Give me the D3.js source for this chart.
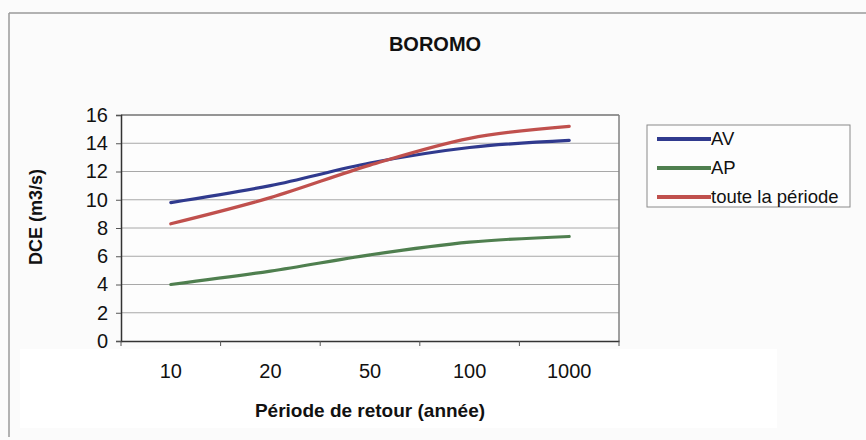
<!DOCTYPE html>
<html>
<head>
<meta charset="utf-8">
<script src="https://cdn.jsdelivr.net/npm/d3@7"></script>
<style>
  html, body { margin: 0; padding: 0; background: #fbfbfb; }
  svg { display: block; font-family: "Liberation Sans", Arial, sans-serif; }
</style>
</head>
<body>
<svg id="chart" width="866" height="440"></svg>
<script>
// Return periods (years) and design flood discharges per period
const periods = ["10", "20", "50", "100", "1000"];
const seriesNames = ["AV", "AP", "toute la période"];
const avValues = [9.8, 11.0, 12.6, 13.7, 14.2];
const apValues = [4.0, 4.95, 6.1, 7.0, 7.4];
const allValues = [8.3, 10.15, 12.45, 14.35, 15.2];
const yTicks = [0, 2, 4, 6, 8, 10, 12, 14, 16];
const seriesColors = ["#303a8e", "#4f7f4f", "#c0504d"];

const series = seriesNames.map((name, i) => ({
  name,
  color: seriesColors[i],
  values: [avValues, apValues, allValues][i]
}));

const svg = d3.select("#chart");
const W = 866, H = 440;
const FONT = "'Liberation Sans', Arial, sans-serif";

// outer frame of the chart
svg.append("rect").attr("x", 0).attr("y", 0).attr("width", W).attr("height", H).attr("fill", "#fbfbfb");
svg.append("line").attr("x1", 9).attr("x2", W).attr("y1", 13).attr("y2", 13)
  .attr("stroke", "#9a9a9a").attr("stroke-width", 1.5);
svg.append("line").attr("x1", 9).attr("x2", 9).attr("y1", 13).attr("y2", 437)
  .attr("stroke", "#9a9a9a").attr("stroke-width", 1.5);
// pale white band under the plot
svg.append("rect").attr("x", 20).attr("y", 349).attr("width", 757).attr("height", 79).attr("fill", "#ffffff");

const plot = { left: 121, right: 619, top: 115, bottom: 341 };

const x = d3.scaleBand().domain(periods).range([plot.left, plot.right]).padding(0);
const y = d3.scaleLinear().domain([0, 16]).range([plot.bottom, plot.top]);

// plot area background
svg.append("rect")
  .attr("x", plot.left).attr("y", plot.top)
  .attr("width", plot.right - plot.left).attr("height", plot.bottom - plot.top)
  .attr("fill", "#fdfdfd");

// horizontal gridlines
svg.append("g").selectAll("line").data(yTicks.filter(t => t > 0)).join("line")
  .attr("x1", plot.left).attr("x2", plot.right)
  .attr("y1", d => y(d)).attr("y2", d => y(d))
  .attr("stroke", "#a8a8a8").attr("stroke-width", 1);

// plot area border (top / right)
svg.append("line").attr("x1", plot.left).attr("x2", plot.right)
  .attr("y1", plot.top).attr("y2", plot.top).attr("stroke", "#808080").attr("stroke-width", 1.5);
svg.append("line").attr("x1", plot.right).attr("x2", plot.right)
  .attr("y1", plot.top).attr("y2", plot.bottom).attr("stroke", "#808080").attr("stroke-width", 1.5);

// y axis
const yAxis = svg.append("g").attr("transform", `translate(${plot.left},0)`)
  .call(d3.axisLeft(y).tickValues(yTicks).tickSize(5).tickPadding(8).tickFormat(d3.format("d")));
yAxis.select(".domain").attr("stroke", "#333").attr("stroke-width", 1.5);
yAxis.selectAll(".tick line").attr("stroke", "#555");
yAxis.selectAll("text").attr("font-size", 20).attr("fill", "#111").attr("font-family", FONT);

// x axis with tick marks on category boundaries
const xAxis = svg.append("g").attr("transform", `translate(0,${plot.bottom})`)
  .call(d3.axisBottom(x).tickSize(0).tickPadding(23));
xAxis.select(".domain").attr("stroke", "#333").attr("stroke-width", 1.5);
xAxis.selectAll("text").attr("font-size", 20).attr("fill", "#111").attr("font-family", FONT);
const bounds = periods.map(p => x(p)).concat([x(periods[periods.length - 1]) + x.bandwidth()]);
svg.append("g").selectAll("line").data(bounds).join("line")
  .attr("x1", d => d).attr("x2", d => d)
  .attr("y1", plot.bottom).attr("y2", plot.bottom + 5)
  .attr("stroke", "#555").attr("stroke-width", 1);

// smoothed series lines
const line = d3.line()
  .x((d, i) => x(periods[i]) + x.bandwidth() / 2)
  .y(d => y(d))
  .curve(d3.curveCatmullRom.alpha(0.5));

svg.append("g").selectAll("path").data(series).join("path")
  .attr("d", d => line(d.values))
  .attr("fill", "none")
  .attr("stroke", d => d.color)
  .attr("stroke-width", 3.2)
  .attr("stroke-linecap", "round");

// title
svg.append("text").attr("x", 435).attr("y", 51).attr("text-anchor", "middle")
  .attr("font-size", 20).attr("font-weight", "bold").attr("fill", "#111")
  .text("BOROMO");

// axis titles
svg.append("text")
  .attr("transform", "translate(42,217) rotate(-90)")
  .attr("text-anchor", "middle").attr("font-size", 18).attr("font-weight", "bold").attr("fill", "#111")
  .text("DCE (m3/s)");
svg.append("text").attr("x", 370).attr("y", 417).attr("text-anchor", "middle")
  .attr("font-size", 19).attr("font-weight", "bold").attr("fill", "#111")
  .text("Période de retour (année)");

// legend
const legend = svg.append("g");
legend.append("rect").attr("x", 647).attr("y", 125).attr("width", 203).attr("height", 82)
  .attr("fill", "#fdfdfd").attr("stroke", "#8a8a8a").attr("stroke-width", 1);
const legendRows = [139, 168, 197];
const items = legend.selectAll("g.item").data(series).join("g")
  .attr("class", "item")
  .attr("transform", (d, i) => `translate(0,${legendRows[i]})`);
items.append("line").attr("x1", 657).attr("x2", 711).attr("y1", 0).attr("y2", 0)
  .attr("stroke", d => d.color).attr("stroke-width", 4);
items.append("text").attr("x", 711).attr("y", 6).attr("font-size", 18.5).attr("fill", "#111")
  .text(d => d.name);
</script>
</body>
</html>
